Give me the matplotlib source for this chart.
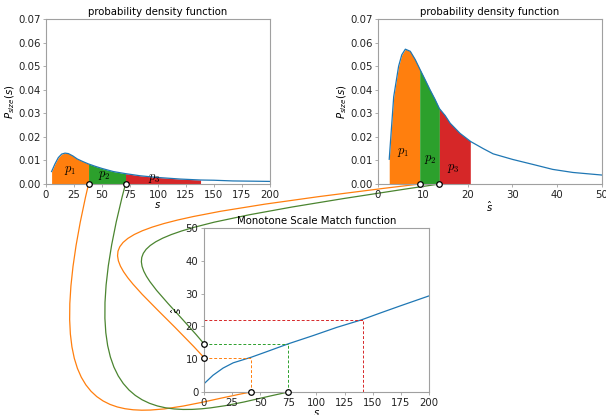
import numpy as np
import matplotlib
matplotlib.use("Agg")
import matplotlib.pyplot as plt
from matplotlib.path import Path
from matplotlib.patches import PathPatch
from matplotlib.transforms import IdentityTransform

# ---------------- data ----------------
s_pdf = [5, 8, 11, 14, 17, 20, 24, 28, 33, 38, 44, 50, 60, 71, 84, 99, 120, 138, 150, 167, 185, 200]
p_pdf = [0.0053, 0.0085, 0.0112, 0.0127, 0.0131, 0.0129, 0.0119, 0.0106, 0.0095, 0.0085, 0.0075,
         0.0066, 0.0053, 0.0044, 0.0035, 0.0028, 0.0021, 0.0017, 0.0016, 0.0013, 0.0012, 0.0011]

shat_pdf = [2.5, 3.5, 4.6, 5.3, 6.1, 7.2, 8.3, 9.4, 10.5, 11.6, 12.7, 13.7, 15, 16.1, 18.3, 20.7,
            23.5, 25.7, 30.1, 34.6, 39, 43.5, 50]
p_hat = [0.0105, 0.037, 0.050, 0.0548, 0.0572, 0.0563, 0.0528, 0.0485, 0.0443, 0.040, 0.036,
         0.032, 0.029, 0.0258, 0.0215, 0.018, 0.0150, 0.0128, 0.0104, 0.0083, 0.0062, 0.0049, 0.0038]

s_map = [0, 8, 17, 26, 42, 55, 75, 97, 118, 140, 156, 174, 200]
shat_map = [2.5, 5.1, 7.3, 8.9, 10.6, 12.2, 14.7, 17.2, 19.7, 22.0, 24.0, 26.2, 29.3]

bounds_s = [5, 38, 71, 138]          # fill bounds, left pdf
bounds_shat = [2.5, 9.3, 13.7, 20.6]  # fill bounds, right pdf
match_s = [42, 75, 141]               # s values on match function
match_shat = [10.5, 14.7, 22.0]       # matched s-hat values
region_labels = ["$p_1$", "$p_2$", "$p_3$"]
label_pos_left = [(22, 0.0058), (52, 0.0038), (97, 0.0024)]
label_pos_right = [(5.6, 0.0135), (11.6, 0.0105), (16.7, 0.0065)]
fill_colors = ["#ff7f0e", "#2ca02c", "#d62728"]
curve_colors = ["#ff7f0e", "#4b8530"]

plt.rcParams["font.family"] = ["DejaVu Sans"]
FS = 7.3
plt.rcParams["font.size"] = FS
spine_col = "#a0a0a0"

fig = plt.figure(figsize=(6.06, 4.15), dpi=100)
ax1 = fig.add_axes([0.0759, 0.5566, 0.3696, 0.3976])
ax2 = fig.add_axes([0.6238, 0.5566, 0.3696, 0.3976])
ax3 = fig.add_axes([0.3366, 0.0554, 0.3713, 0.3952])

for ax in (ax1, ax2, ax3):
    for sp in ax.spines.values():
        sp.set_color(spine_col)
        sp.set_linewidth(0.8)
    ax.tick_params(colors=spine_col, labelcolor="#222222", labelsize=FS, length=2.5, width=0.6, pad=1.5)


def fill_regions(ax, x, y, bounds, labels_pos):
    x = np.asarray(x, float)
    y = np.asarray(y, float)
    for i in range(3):
        lo, hi = bounds[i], bounds[i + 1]
        xs = np.linspace(lo, hi, 80)
        ys = np.interp(xs, x, y)
        ax.fill_between(xs, 0, ys, color=fill_colors[i], lw=0, zorder=1)
        ax.text(labels_pos[i][0], labels_pos[i][1], region_labels[i], fontsize=9,
                math_fontfamily="cm", ha="center", va="center", zorder=3)
    ax.plot(x, y, color="#1f77b4", lw=0.9, zorder=2)


fill_regions(ax1, s_pdf, p_pdf, bounds_s, label_pos_left)
ax1.set_xlim(0, 200)
ax1.set_ylim(0, 0.07)
ax1.set_xticks(np.arange(0, 201, 25))
ax1.set_yticks(np.arange(0, 0.0701, 0.01))
ax1.set_title("probability density function", fontsize=FS, pad=3)
ax1.set_xlabel("$s$", fontsize=FS, labelpad=0)
ax1.set_ylabel("$P_{size}(s)$", fontsize=FS, labelpad=1)

fill_regions(ax2, shat_pdf, p_hat, bounds_shat, label_pos_right)
ax2.set_xlim(0, 50)
ax2.set_ylim(0, 0.07)
ax2.set_xticks(np.arange(0, 51, 10))
ax2.set_yticks(np.arange(0, 0.0701, 0.01))
ax2.set_title("probability density function", fontsize=FS, pad=3)
ax2.set_xlabel("$\\hat{s}$", fontsize=FS, labelpad=0)
ax2.set_ylabel("$P_{size}(s)$", fontsize=FS, labelpad=1)

ax3.plot(s_map, shat_map, color="#1f77b4", lw=0.9)
dash_cols = ["#ff7f0e", "#2ca02c", "#d62728"]
for i in range(3):
    ax3.plot([0, match_s[i]], [match_shat[i], match_shat[i]], ls=(0, (3, 2)), color=dash_cols[i], lw=0.7)
    ax3.plot([match_s[i], match_s[i]], [0, match_shat[i]], ls=(0, (3, 2)), color=dash_cols[i], lw=0.7)
ax3.set_xlim(0, 200)
ax3.set_ylim(0, 50)
ax3.set_xticks(np.arange(0, 201, 25))
ax3.set_yticks(np.arange(0, 51, 10))
ax3.set_title("Monotone Scale Match function", fontsize=FS, pad=3)
ax3.set_xlabel("$s$", fontsize=FS, labelpad=0)
ax3.set_ylabel("$\\hat{s}$", fontsize=FS, labelpad=1)

mk = dict(marker="o", ms=4, mfc="white", mec="black", mew=0.9, ls="none", clip_on=False, zorder=5)
ax1.plot(bounds_s[1:3], [0, 0], **mk)
ax2.plot(bounds_shat[1:3], [0, 0], **mk)
ax3.plot(match_s[:2], [0, 0], **mk)
ax3.plot([0, 0], match_shat[:2], **mk)

# ---------- connector curves (cubic Bezier, pixel offsets for control points) ----------


def disp(ax, x, y):
    return ax.transData.transform((x, y))


def bez(p0, d1, p3, d2, color):
    # d1, d2 offsets in image pixels (x right, y down)
    p1 = (p0[0] + d1[0], p0[1] - d1[1])
    p2 = (p3[0] + d2[0], p3[1] - d2[1])
    path = Path([p0, p1, p2, p3], [Path.MOVETO, Path.CURVE4, Path.CURVE4, Path.CURVE4])
    patch = PathPatch(path, fc="none", ec=color, lw=0.9, transform=IdentityTransform(), zorder=-1)
    fig.add_artist(patch)


# left pdf boundaries -> s axis of match function
bez(disp(ax1, bounds_s[1], 0), (-68, 288), disp(ax3, match_s[0], 0), (-101, 18), curve_colors[0])
bez(disp(ax1, bounds_s[2], 0), (-76, 285), disp(ax3, match_s[1], 0), (-87, 18), curve_colors[1])
# right pdf boundaries -> s-hat axis of match function
bez(disp(ax2, bounds_shat[1], 0), (-400, 48), disp(ax3, 0, match_shat[0]), (-108, -118), curve_colors[0])
bez(disp(ax2, bounds_shat[2], 0), (-379, 56), disp(ax3, 0, match_shat[1]), (-84, -100), curve_colors[1])

fig.savefig("out.png", dpi=100)
